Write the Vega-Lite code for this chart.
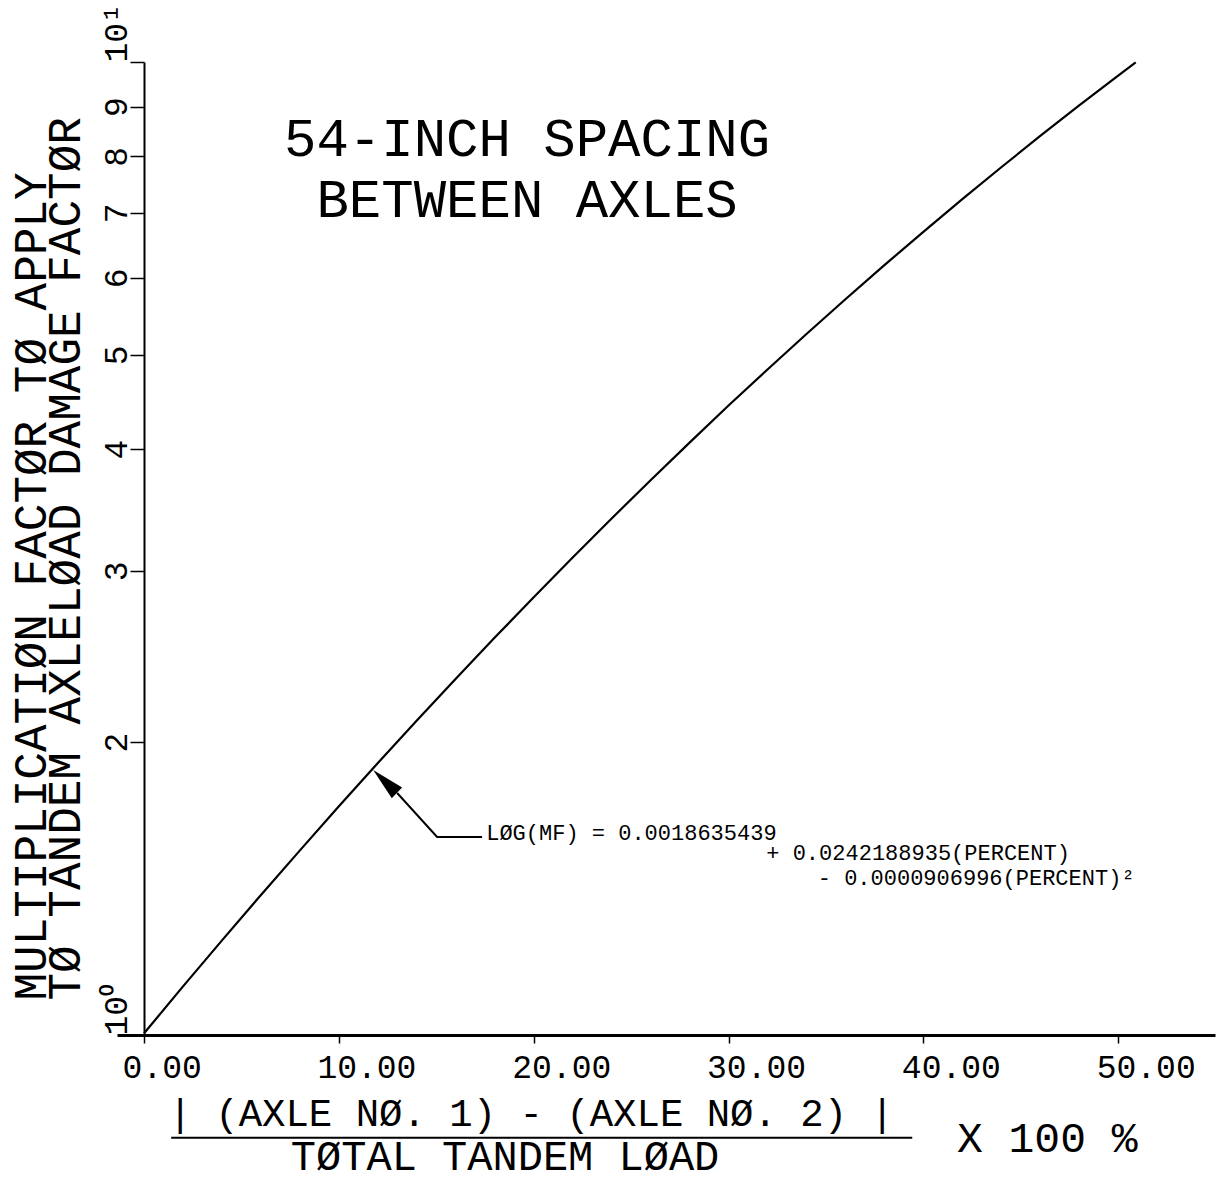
{
  "$schema": "https://vega.github.io/schema/vega-lite/v6.json",
  "autosize": {"type": "none"},
  "width": 1098,
  "height": 973,
  "padding": {"left": 117, "top": 62, "right": 11, "bottom": 151},
  "background": "white",
  "config": {
    "view": {"stroke": null},
    "font": "Liberation Mono",
    "axis": {
      "grid": false,
      "domainColor": "black",
      "tickColor": "black",
      "labelColor": "black",
      "titleColor": "black",
      "labelFont": "Liberation Mono",
      "titleFont": "Liberation Mono",
      "labelFontWeight": "normal",
      "titleFontWeight": "normal"
    }
  },
  "datasets": {
    "curve": [
      {"pct": 0, "mf": 1.004}, {"pct": 2, "mf": 1.122}, {"pct": 4, "mf": 1.251},
      {"pct": 6, "mf": 1.393}, {"pct": 8, "mf": 1.548}, {"pct": 10, "mf": 1.718},
      {"pct": 12, "mf": 1.903}, {"pct": 14, "mf": 2.105}, {"pct": 16, "mf": 2.323},
      {"pct": 18, "mf": 2.561}, {"pct": 20, "mf": 2.818}, {"pct": 22, "mf": 3.096},
      {"pct": 24, "mf": 3.395}, {"pct": 26, "mf": 3.717}, {"pct": 28, "mf": 4.063},
      {"pct": 30, "mf": 4.436}, {"pct": 32, "mf": 4.83}, {"pct": 34, "mf": 5.253},
      {"pct": 36, "mf": 5.704}, {"pct": 38, "mf": 6.183}, {"pct": 40, "mf": 6.691},
      {"pct": 42, "mf": 7.228}, {"pct": 44, "mf": 7.795}, {"pct": 46, "mf": 8.395},
      {"pct": 48, "mf": 9.025}, {"pct": 50, "mf": 9.684}, {"pct": 50.9, "mf": 9.99}
    ],
    "leader": [
      {"seq": 1, "pct": 12.99, "mf": 1.773},
      {"seq": 2, "pct": 15.04, "mf": 1.598},
      {"seq": 3, "pct": 17.35, "mf": 1.598}
    ],
    "arrowhead": [{"pct": 12.37, "mf": 1.822}],
    "title": [
      {"pct": 19.66, "mf": 8.006, "label": "54-INCH SPACING"},
      {"pct": 19.66, "mf": 6.929, "label": "BETWEEN AXLES"}
    ],
    "eq1": [{"pct": 17.56, "mf": 1.586, "label": "LØG(MF) = 0.0018635439"}],
    "eq2": [
      {"pct": 39.73, "mf": 1.513, "label": "+ 0.0242188935(PERCENT)"},
      {"pct": 42.71, "mf": 1.426, "label": "- 0.0000906996(PERCENT)²"}
    ],
    "numerator": [{"pct": 19.87, "mf": 0.806, "label": "| (AXLE NØ. 1) - (AXLE NØ. 2) |"}],
    "bar": [{"pct": 1.39, "pct2": 39.43, "mf": 0.784}],
    "denominator": [{"pct": 18.53, "mf": 0.7265, "label": "TØTAL TANDEM LØAD"}],
    "times": [{"pct": 46.36, "mf": 0.759, "label": "X 100 %"}]
  },
  "encoding": {
    "x": {
      "field": "pct",
      "type": "quantitative",
      "scale": {"domain": [-1.39, 54.97], "nice": false, "zero": false},
      "axis": {
        "values": [0, 10, 20, 30, 40, 50],
        "format": ".2f",
        "tickSize": 8,
        "tickWidth": 1.5,
        "domainWidth": 3,
        "labelFontSize": 33,
        "labelAlign": "left",
        "labelOffset": -22,
        "labelBaseline": "alphabetic",
        "labelPadding": 34,
        "labelFlush": false,
        "labelOverlap": false,
        "title": null
      }
    },
    "y": {
      "field": "mf",
      "type": "quantitative",
      "scale": {"type": "log", "domain": [1, 10], "nice": false},
      "axis": {
        "values": [1, 2, 3, 4, 5, 6, 7, 8, 9, 10],
        "offset": -27,
        "tickSize": 14,
        "tickWidth": 1.5,
        "domainWidth": 2,
        "labelAngle": -90,
        "labelAlign": {"condition": {"test": "datum.value == 1 || datum.value == 10", "value": "left"}, "value": "center"},
        "labelBaseline": "alphabetic",
        "labelPadding": 4,
        "labelFontSize": 33,
        "labelFlush": false,
        "labelOverlap": false,
        "labelExpr": "datum.value == 1 ? '10⁰' : datum.value == 10 ? '10¹' : format(datum.value, 'd')",
        "title": ["MULTIPLICATIØN FACTØR TØ APPLY", "TØ TANDEM AXLELØAD DAMAGE FACTØR"],
        "titleFontSize": 46,
        "titleAngle": -90,
        "titleAlign": "left",
        "titleBaseline": "alphabetic",
        "titleX": -99,
        "titleY": 938,
        "titleLineHeight": 34
      }
    }
  },
  "layer": [
    {
      "data": {"name": "curve"},
      "mark": {"type": "line", "color": "black", "strokeWidth": 2.2}
    },
    {
      "data": {"name": "leader"},
      "mark": {"type": "line", "color": "black", "strokeWidth": 2},
      "encoding": {"order": {"field": "seq", "type": "quantitative"}}
    },
    {
      "data": {"name": "arrowhead"},
      "mark": {"type": "point", "shape": "M0,-1L0.45,1L-0.45,1Z", "filled": true, "color": "black", "opacity": 1, "size": 1090, "angle": -46}
    },
    {
      "data": {"name": "title"},
      "mark": {"type": "text", "font": "Liberation Mono", "fontSize": 54, "align": "center", "baseline": "alphabetic", "color": "black"},
      "encoding": {"text": {"field": "label"}}
    },
    {
      "data": {"name": "eq1"},
      "mark": {"type": "text", "font": "Liberation Mono", "fontSize": 22, "align": "left", "baseline": "alphabetic", "color": "black"},
      "encoding": {"text": {"field": "label"}}
    },
    {
      "data": {"name": "eq2"},
      "mark": {"type": "text", "font": "Liberation Mono", "fontSize": 22, "align": "center", "baseline": "alphabetic", "color": "black"},
      "encoding": {"text": {"field": "label"}}
    },
    {
      "data": {"name": "numerator"},
      "mark": {"type": "text", "font": "Liberation Mono", "fontSize": 39, "align": "center", "baseline": "alphabetic", "color": "black"},
      "encoding": {"text": {"field": "label"}}
    },
    {
      "data": {"name": "bar"},
      "mark": {"type": "rule", "color": "black", "strokeWidth": 2},
      "encoding": {"x2": {"field": "pct2"}}
    },
    {
      "data": {"name": "denominator"},
      "mark": {"type": "text", "font": "Liberation Mono", "fontSize": 42, "align": "center", "baseline": "alphabetic", "color": "black"},
      "encoding": {"text": {"field": "label"}}
    },
    {
      "data": {"name": "times"},
      "mark": {"type": "text", "font": "Liberation Mono", "fontSize": 43, "align": "center", "baseline": "alphabetic", "color": "black"},
      "encoding": {"text": {"field": "label"}}
    }
  ]
}
